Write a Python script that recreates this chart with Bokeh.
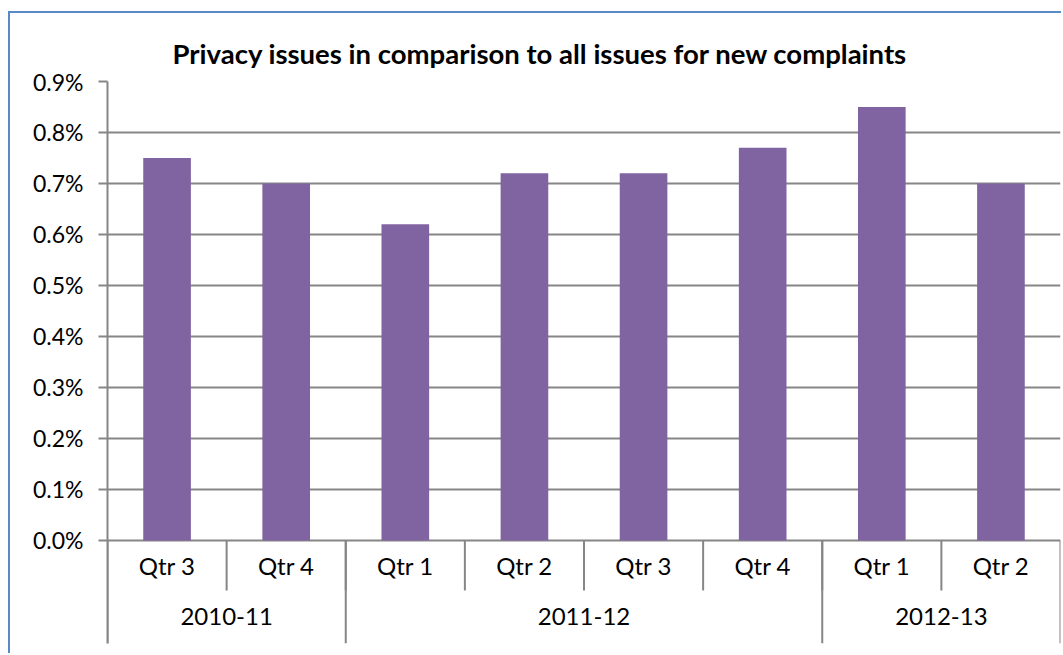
from bokeh.plotting import figure
from bokeh.models import Range1d, FixedTicker, ColumnDataSource, CustomJSTickFormatter
from bokeh.core.properties import value
from bokeh.embed import file_html
from bokeh.resources import INLINE

# ---- data ----
quarters = ["Qtr 3", "Qtr 4", "Qtr 1", "Qtr 2", "Qtr 3", "Qtr 4", "Qtr 1", "Qtr 2"]
years = ["2010-11", "2011-12", "2012-13"]
year_sizes = [2, 4, 2]
privacy_pct = [0.75, 0.70, 0.62, 0.72, 0.72, 0.77, 0.85, 0.70]
y_ticks = [0.0, 0.1, 0.2, 0.3, 0.4, 0.5, 0.6, 0.7, 0.8, 0.9]
title = "Privacy issues in comparison to all issues for new complaints"

FONT = "Lato"
GRID = "#868686"
BAR = "#8064A2"
BORDER = "#5A8AC6"

n = len(quarters)
y_bottom = -0.202
q_row = -0.098

p = figure(width=1053, height=642, output_backend="svg", toolbar_location=None,
           x_range=Range1d(0, n), y_range=Range1d(y_bottom, 0.9),
           min_border_left=97, min_border_right=3, min_border_top=68, min_border_bottom=12)
p.outline_line_color = None
p.background_fill_color = "white"
p.border_fill_color = "white"
p.styles = {"border-left": f"2px solid {BORDER}", "border-top": f"2px solid {BORDER}",
            "margin-top": "11px", "margin-left": "8px"}

# title
p.title.text = title
p.title.text_font = FONT
p.title.text_font_size = "27.5px"
p.title.text_font_style = "bold"
p.title.text_color = "black"
p.title.align = "left"
p.title.offset = 65
p.title.standoff = 24

# axes
p.xaxis.visible = False
yax = p.yaxis[0]
yax.ticker = FixedTicker(ticks=y_ticks)
yax.formatter = CustomJSTickFormatter(code="return tick.toFixed(1) + '%';")
yax.major_label_text_font = FONT
yax.major_label_text_font_size = "23px"
yax.major_label_text_color = "black"
yax.axis_line_color = GRID
yax.axis_line_width = 2
yax.major_tick_line_color = GRID
yax.major_tick_line_width = 2
yax.major_tick_out = 9
yax.major_tick_in = 0
yax.minor_tick_line_color = None
yax.major_label_standoff = 15

p.xgrid.visible = False
p.ygrid.ticker = FixedTicker(ticks=y_ticks)
p.ygrid.grid_line_color = GRID
p.ygrid.grid_line_width = 2

# bars
xs = [i + 0.5 for i in range(n)]
src = ColumnDataSource(dict(x=xs, top=privacy_pct, q=quarters))
p.vbar(x="x", top="top", bottom=0, width=0.4, source=src, fill_color=BAR, line_color=None)

# category separators
inner = list(range(1, n))
p.segment(x0=inner, y0=[0] * len(inner), x1=inner, y1=[q_row] * len(inner),
          line_color=GRID, line_width=2)
bounds = [0]
for s in year_sizes:
    bounds.append(bounds[-1] + s)
p.segment(x0=bounds, y0=[0] * len(bounds), x1=bounds, y1=[y_bottom] * len(bounds),
          line_color=GRID, line_width=2)

# quarter labels
p.text(x="x", y=q_row / 2, text="q", source=src, text_font=value(FONT),
       text_font_size="24px", text_align="center", text_baseline="middle", text_color="black")
# year labels
centers = [(bounds[i] + bounds[i + 1]) / 2 for i in range(len(years))]
p.text(x=centers, y=[(q_row + y_bottom) / 2] * len(years), text=years, text_font=value(FONT),
       text_font_size="24px", text_align="center", text_baseline="middle", text_color="black")

open("out.html", "w").write(file_html(p, INLINE))
